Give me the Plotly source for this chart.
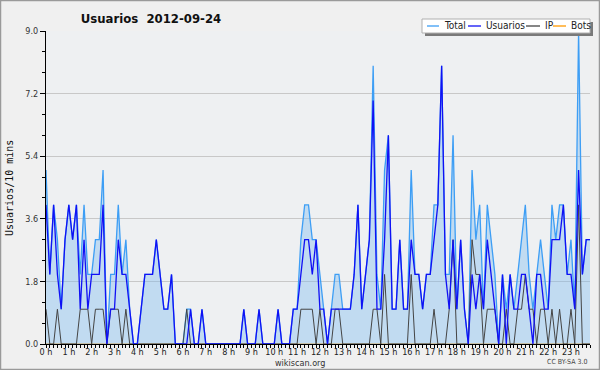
import plotly.graph_objects as go

# 10-minute slots for 2012-09-24 (144 slots)
usuarios = [4,2,4,2,1,3,4,3,4,1, 3,1,2,2,2,4,0,1,1,3, 2,2,1,0,0,1,2,2,2,3,
            2,1,1,2,0,0,0,0,1,0, 0,1,0,0,0,0,0,0,0,0, 0,0,1,0,0,0,1,0,0,0,
            0,1,0,0,0,1,1,2,3,3, 2,3,1,1,0,1,1,1,1,1, 1,2,4,1,2,3,7,1,1,3,
            6,1,1,3,1,1,3,2,2,1, 2,2,3,4,8,2,1,3,1,3, 1,0,2,1,2,1,3,2,1,0,
            2,0,2,1,1,2,2,1,0,2, 2,1,1,3,3,3,4,2,2,1, 5,2,3,3]
ip = [1,0,0,1,0,0,0,0,0,1, 1,1,0,1,1,1,0,1,1,1, 0,1,0,0,0,0,0,0,0,0,
      0,0,0,0,0,0,0,1,0,0, 0,0,0,0,0,0,0,0,0,0, 0,0,0,0,0,0,0,0,0,0,
      0,0,0,0,0,0,0,1,1,1, 1,0,1,0,0,0,1,1,0,0, 0,0,0,0,0,0,1,1,0,2,
      0,0,0,0,0,0,2,0,0,0, 0,0,1,0,0,0,1,3,0,0, 0,0,3,2,2,0,1,1,1,0,
      0,1,0,0,1,1,2,1,1,0, 1,1,0,1,0,1,0,0,1,0, 4,0,0,0]
total = [5,2,4,3,1,3,4,3,4,2, 4,2,2,3,3,5,0,2,2,4, 2,3,1,0,0,1,2,2,2,3,
         2,1,1,2,0,0,0,1,1,0, 0,1,0,0,0,0,0,0,0,0, 0,0,1,0,0,0,1,0,0,0,
         0,1,0,0,0,1,1,3,4,4, 3,3,2,1,0,1,2,2,1,1, 1,2,4,1,2,3,8,2,1,5,
         6,1,1,3,1,1,5,2,2,1, 2,2,4,4,8,2,2,6,1,3, 1,0,5,3,4,1,4,3,2,0,
         2,1,2,1,2,3,4,2,1,2, 3,2,1,4,3,4,4,2,3,1, 9,2,3,3]
bots = [0] * 144
slots = list(range(144))
hour_ticks = list(range(0, 144, 6))
hour_labels = [f"{h} h" for h in range(24)]
y_ticks = [0.0, 1.8, 3.6, 5.4, 7.2, 9.0]
series_names = ["Total", "Usuarios", "IP", "Bots"]
series_colors = ["#3d9ef5", "#1010f5", "#444444", "#ff9900"]

COND = "DejaVu Sans Condensed, Liberation Sans Narrow, DejaVu Sans"
MONO = "DejaVu Sans Mono, Liberation Mono, monospace"

fig = go.Figure()
fig.add_trace(go.Scatter(x=slots, y=bots, name="Bots", mode="lines",
                         line=dict(color=series_colors[3], width=1)))
fig.add_trace(go.Scatter(x=slots, y=total, name="Total", mode="lines",
                         fill="tozeroy", fillcolor="rgba(120,183,240,0.38)",
                         line=dict(color=series_colors[0], width=1.3)))
fig.add_trace(go.Scatter(x=slots, y=ip, name="IP", mode="lines",
                         line=dict(color=series_colors[2], width=1)))
fig.add_trace(go.Scatter(x=slots, y=usuarios, name="Usuarios", mode="lines",
                         line=dict(color=series_colors[1], width=1.3)))

W, H = 600, 370
L, R, T, B = 46, 10, 31, 26
pw, ph = W - L - R, H - T - B

def px(x):
    return (x - L) / pw

def py(y):
    return (H - B - y) / ph

# hand-drawn legend box (position/style only)
leg_line_x = [(427, 439), (468, 481), (526, 540), (553, 566)]
leg_text_x = [442, 484, 543, 569]
leg_y = 26
shapes = [
    dict(type="rect", xref="paper", yref="paper", x0=px(425), x1=px(593),
         y0=py(36), y1=py(22), line=dict(width=0), fillcolor="#7a7a7a", layer="above"),
    dict(type="rect", xref="paper", yref="paper", x0=px(422), x1=px(590),
         y0=py(33), y1=py(19), line=dict(color="#b0b0b0", width=1),
         fillcolor="#ffffff", layer="above"),
]
annotations = []
for (x0, x1), tx, name, col in zip(leg_line_x, leg_text_x, series_names, series_colors):
    shapes.append(dict(type="line", xref="paper", yref="paper", x0=px(x0), x1=px(x1),
                       y0=py(leg_y), y1=py(leg_y), line=dict(color=col, width=1.3),
                       layer="above"))
    annotations.append(dict(text=name, x=px(tx), y=py(leg_y), xref="paper", yref="paper",
                            showarrow=False, xanchor="left", yanchor="middle",
                            font=dict(family=COND, size=10, color="#222222")))

annotations += [
    dict(text="wikiscan.org", x=px(300), y=py(362.5), xref="paper", yref="paper",
         showarrow=False, xanchor="center", yanchor="middle",
         font=dict(family=COND, size=9, color="#333333")),
    dict(text="CC BY-SA 3.0", x=px(589), y=py(362), xref="paper", yref="paper",
         showarrow=False, xanchor="right", yanchor="middle",
         font=dict(family=COND, size=7, color="#444444")),
    dict(text="Usuarios/10 mins", x=px(9), y=py(188), xref="paper", yref="paper",
         showarrow=False, xanchor="center", yanchor="middle", textangle=-90,
         font=dict(family=MONO, size=10, color="#111111")),
]
shapes.append(dict(type="rect", xref="paper", yref="paper", x0=px(0.5), x1=px(599.5),
                   y0=py(369.5), y1=py(0.5), line=dict(color="#9a9a9a", width=1.5),
                   fillcolor="rgba(0,0,0,0)", layer="above"))

fig.update_layout(
    width=W, height=H,
    margin=dict(l=L, r=R, t=T, b=B),
    paper_bgcolor="#f0f0f0",
    plot_bgcolor="#eef0f2",
    font=dict(family=COND, size=9, color="#222222"),
    showlegend=False,
    title=dict(text="<b>Usuarios  2012-09-24</b>", x=151 / W, xanchor="center",
               y=1 - 18 / H, yanchor="middle", xref="container", yref="container",
               font=dict(family=COND, size=13, color="#111111")),
    xaxis=dict(range=[0, 143], tickmode="array", tickvals=hour_ticks, ticktext=hour_labels,
               ticks="outside", ticklen=3, tickcolor="#000000", tickwidth=1,
               showline=True, linecolor="#000000", linewidth=1, showgrid=False, zeroline=False,
               minor=dict(dtick=1, ticks="outside", ticklen=3, tickcolor="#000000", showgrid=False),
               tickfont=dict(family=COND, size=9), ticklabelstandoff=-4, fixedrange=True),
    yaxis=dict(range=[0, 9], tickmode="array", tickvals=y_ticks,
               ticktext=[f"{v:.1f}" for v in y_ticks],
               ticks="outside", ticklen=5, tickcolor="#000000",
               showline=True, linecolor="#000000", linewidth=1,
               showgrid=True, gridcolor="#c8c8c8", gridwidth=1, zeroline=False,
               minor=dict(dtick=0.6, ticks="outside", ticklen=3, tickcolor="#000000", showgrid=False),
               tickfont=dict(family=COND, size=9, color="#333333"), fixedrange=True),
    annotations=annotations,
    shapes=shapes,
)

fig.write_html("out.html", config={"displayModeBar": False},
               post_script="document.body.style.margin='0px';document.body.style.overflow='hidden';")
